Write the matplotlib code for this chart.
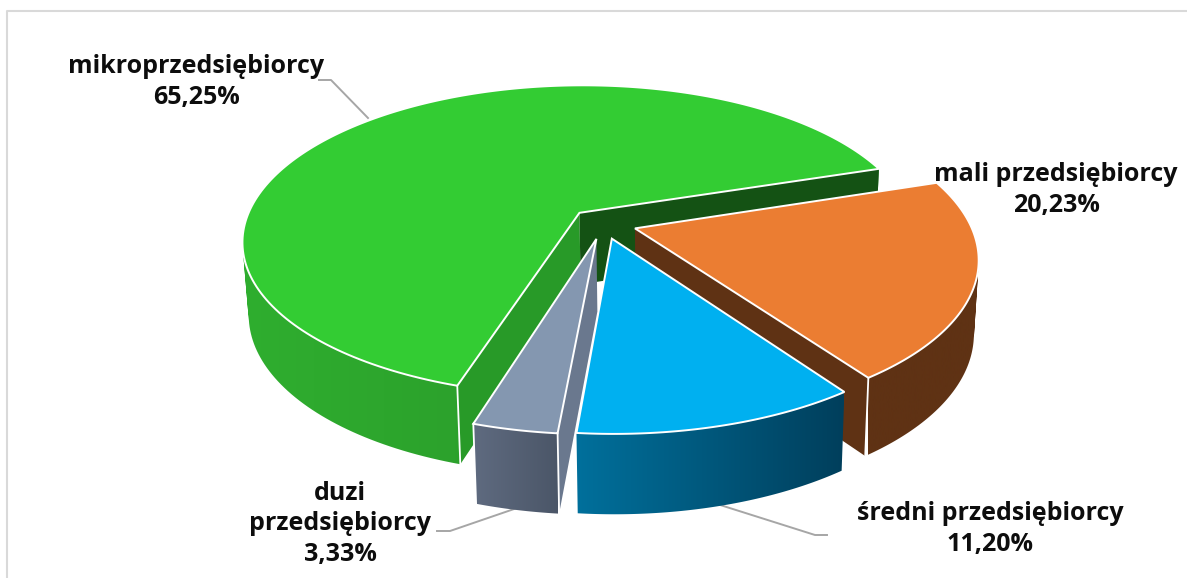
import numpy as np
import matplotlib
matplotlib.use("Agg")
import matplotlib.pyplot as plt
from matplotlib.patches import Polygon
from matplotlib.path import Path
from matplotlib.colors import LinearSegmentedColormap

# Dane
kategorie = ["mikroprzedsiębiorcy", "mali przedsiębiorcy", "średni przedsiębiorcy", "duzi\nprzedsiębiorcy"]
udzialy = [65.25, 20.23, 11.20, 3.33]
etykiety = ["65,25%", "20,23%", "11,20%", "3,33%"]

# Kolory: wierzch, bok (lewy, prawy)
wierzch = ["#33cc33", "#eb7d32", "#00b0f0", "#8497b0"]
bok = [("#2fae2f", "#268a26"), ("#5f3214", "#5f3214"), ("#00709c", "#003f5c"), ("#5f6b80", "#4b5668")]
# Widoczne sciany promieniowe: (slice, 0 = poczatek / -1 = koniec, kolor)
sciany = {0: [(0, "#289a28"), (-1, "#145214")], 1: [(-1, "#5f3214")], 2: [], 3: [(0, "#6a788e")]}

# Rzut perspektywiczny wykresu 3D
X0, Y0 = 603.0, 223.5
F, G, P = 335.0, 154.0, 0.18
H = 72.0           # wysokosc kola
SKALA_DOL = 0.985  # dolna krawedz jest dalej od kamery
XV = 660.0
WYSUNIECIE = 0.10
KAT_START = 72.0 - 360 * udzialy[0] / sum(udzialy)


def rzut(u, v):
    w = 1 - P * v
    return X0 + F * u / w, Y0 + G * v / w, w


def gora(u, v):
    x, y, _ = rzut(u, v)
    return np.column_stack([x, y])


def dol(u, v):
    x, y, w = rzut(u, v)
    return np.column_stack([XV + (x - XV) * SKALA_DOL, y + H / np.sqrt(w)])


def obrys_boku(g_pts, d_pts):
    # suma czworokatow o tej samej orientacji, zeby domknac krawedz po lewej
    verts, codes = [], []
    for n in range(len(g_pts) - 1):
        q = np.array([g_pts[n], g_pts[n + 1], d_pts[n + 1], d_pts[n]])
        x, y = q[:, 0], q[:, 1]
        if np.dot(x, np.roll(y, 1)) - np.dot(y, np.roll(x, 1)) < 0:
            q = q[::-1]
        verts.extend(list(q) + [q[0]])
        codes.extend([Path.MOVETO, Path.LINETO, Path.LINETO, Path.LINETO, Path.CLOSEPOLY])
    return Path(np.array(verts), codes)


fig = plt.figure(figsize=(11.87, 5.78), dpi=100, facecolor="white")
ax = fig.add_axes([0, 0, 1, 1])
ax.set_xlim(0, 1187)
ax.set_ylim(578, 0)
ax.axis("off")

# Ramka wykresu
ax.plot([6.5, 6.5, 1187], [578, 11, 11], color="#d9d9d9", lw=1.5, zorder=0)

katy = KAT_START + np.cumsum([0] + udzialy) / sum(udzialy) * 360
z = 1
for i in range(len(udzialy)):
    a0, a1 = katy[i], katy[i + 1]
    srodek = np.radians((a0 + a1) / 2)
    cu, cv = WYSUNIECIE * np.sin(srodek), -WYSUNIECIE * np.cos(srodek)
    t = np.radians(np.linspace(a0, a1, 200))
    ru, rv = cu + np.sin(t), cv - np.cos(t)
    cuu, cvv = np.array([cu]), np.array([cv])
    g_pts, d_pts = gora(ru, rv), dol(ru, rv)

    # Bok z gradientem
    widoczne = np.cos(t) < 0.35
    xmin, xmax = g_pts[widoczne, 0].min(), g_pts[widoczne, 0].max()
    cmap = LinearSegmentedColormap.from_list("bok", bok[i])
    im = ax.imshow(np.linspace(0, 1, 256).reshape(1, -1), cmap=cmap, aspect="auto",
                   extent=[xmin, xmax, 578, 0], zorder=z)
    ax.set_xlim(0, 1187)
    ax.set_ylim(578, 0)
    im.set_clip_path(obrys_boku(g_pts, d_pts), transform=ax.transData)
    z += 1

    # Sciany promieniowe
    for j, kolor in sciany[i]:
        uu = np.array([cu, ru[j]])
        vv = np.array([cv, rv[j]])
        pts = np.vstack([gora(uu, vv), dol(uu, vv)[::-1]])
        ax.add_patch(Polygon(pts, closed=True, fc=kolor, ec="none", zorder=z))
        z += 1

    # Wierzch
    top = np.vstack([gora(cuu, cvv), g_pts])
    ax.add_patch(Polygon(top, closed=True, fc=wierzch[i], ec="white", lw=1.4, joinstyle="miter", zorder=z))
    z += 1

    # Biale krawedzie pionowe na widocznych narozach
    for j, kat in [(0, a0), (-1, a1)]:
        if np.cos(np.radians(kat)) < 0 and ((i == 0 and j == 0) or (i == 1 and j == -1) or i == 3):
            e = np.vstack([g_pts[j], d_pts[j]])
            ax.plot(e[:, 0], e[:, 1], color="white", lw=1.3, zorder=z)
    z += 1

# Linie odniesienia
linie = [([319, 331, 368], [80, 80, 118]),
         ([437, 450, 517], [531, 531, 508]),
         ([717, 815, 827], [504, 535, 535])]
for lx, ly in linie:
    ax.plot(lx, ly, color="#a6a6a6", lw=1.4, zorder=1)

# Etykiety
pozycje = [(196, 82), (1056, 190), (990, 529), (340, 524)]
for nazwa, proc, (tx, ty) in zip(kategorie, etykiety, pozycje):
    ax.text(tx, ty, nazwa + "\n" + proc, ha="center", va="center", fontsize=18,
            fontweight="bold", family="Open Sans", color="#0d0d0d", linespacing=1.3, zorder=z)

fig.savefig("out.png", dpi=100, facecolor="white")
